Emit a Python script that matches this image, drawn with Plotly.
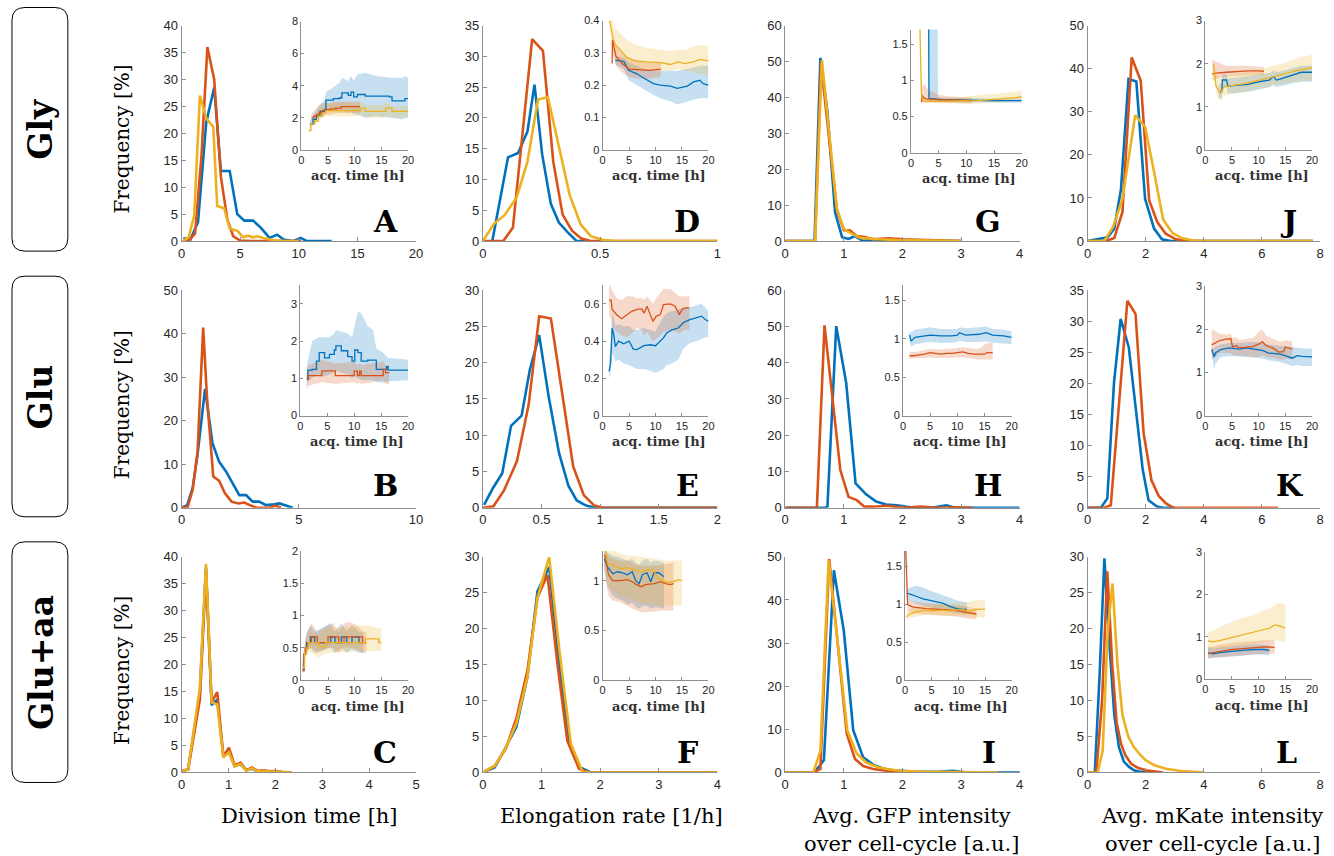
import plotly.graph_objects as go

# ---------------- DATA ----------------
# Row 1 (Gly)
A_blue_x = [0.15, 0.75, 1.4, 2.1, 2.78, 3.35, 4.1, 4.75, 5.35, 6.1, 6.75, 7.5, 8.15, 8.7, 9.5, 10.15, 10.7, 12.8]
A_blue_f = [0.5, 0.3, 3.5, 22, 28.5, 13, 13, 5, 3.8, 3.8, 2.5, 0.6, 1.2, 0.3, 0, 0.6, 0, 0]
A_red_x = [0.15, 0.7, 1.15, 1.7, 2.2, 2.78, 3.35, 3.9, 4.4, 5.0, 6.0, 7.0, 8.0, 9.0, 10.2]
A_red_f = [0, 0.3, 1.4, 16, 36, 30, 12, 4, 0.9, 0.1, 0, 0, 0, 0, 0]
A_yel_x = [0.1, 0.6, 1.08, 1.56, 2.13, 2.7, 3.04, 3.63, 4.11, 4.77, 5.25, 5.67, 6.1, 6.5, 7.1, 7.8, 8.65, 10.0]
A_yel_f = [0, 0.7, 4.8, 27, 22.7, 21.2, 6.5, 6.1, 2.3, 1.9, 0.7, 1.0, 0.7, 0.9, 0.5, 0.2, 0, 0]

A_in_blue_t = [1.6, 2.2, 2.8, 3.5, 4.3, 4.6, 6.0, 7.2, 7.6, 8.8, 9.3, 9.8, 10.5, 12, 14, 16.5, 17.0, 19.0, 19.4, 20]
A_in_blue_m = [1.6, 1.9, 2.1, 2.4, 2.5, 3.1, 3.2, 3.25, 3.55, 3.4, 3.6, 3.3, 3.45, 3.35, 3.35, 3.3, 3.05, 3.05, 3.2, 3.2]
A_in_blue_hi = [1.8, 2.1, 2.4, 2.8, 3.1, 3.6, 3.9, 4.2, 4.5, 4.3, 4.6, 4.3, 4.7, 4.8, 4.6, 4.5, 4.5, 4.5, 4.6, 4.5]
A_in_blue_lo = [1.4, 1.7, 1.9, 2.1, 2.2, 2.4, 2.5, 2.4, 2.5, 2.3, 2.4, 2.2, 2.2, 2.0, 2.1, 2.0, 2.0, 1.9, 2.0, 2.0]
A_in_red_t = [1.9, 2.3, 2.8, 3.3, 3.8, 4.5, 5.5, 6.5, 7.5, 8.5, 10, 11]
A_in_red_m = [2.0, 2.1, 2.2, 2.3, 2.45, 2.5, 2.55, 2.6, 2.7, 2.7, 2.7, 2.7]
A_in_red_hi = [2.3, 2.4, 2.6, 2.8, 2.9, 2.9, 2.9, 3.0, 3.0, 3.0, 3.0, 3.0]
A_in_red_lo = [1.8, 1.8, 1.9, 2.0, 2.1, 2.2, 2.2, 2.3, 2.3, 2.3, 2.3, 2.3]
A_in_yel_t = [1.4, 1.8, 2.5, 3.2, 4.0, 4.6, 6, 8, 10.5, 11.2, 12, 14, 15.3, 15.8, 16.5, 17, 20]
A_in_yel_m = [1.2, 1.6, 1.8, 2.1, 2.3, 2.45, 2.45, 2.45, 2.45, 2.6, 2.4, 2.4, 2.4, 2.6, 2.6, 2.4, 2.4]
A_in_yel_hi = [1.3, 1.8, 2.1, 2.5, 2.7, 2.9, 2.9, 2.9, 2.9, 3.0, 2.8, 2.8, 2.8, 2.9, 2.9, 2.7, 2.7]
A_in_yel_lo = [1.1, 1.4, 1.6, 1.8, 2.0, 2.1, 2.1, 2.1, 2.1, 2.2, 2.05, 2.0, 2.0, 2.1, 2.1, 2.0, 2.0]

D_blue_x = [0.04, 0.107, 0.15, 0.19, 0.22, 0.253, 0.29, 0.324, 0.36, 0.40, 0.44]
D_blue_f = [0, 13.6, 14.3, 17.8, 25.4, 14, 6, 3, 1.5, 0, 0]
D_red_x = [0, 0.087, 0.128, 0.21, 0.256, 0.3, 0.34, 0.38, 0.42, 0.46, 0.6, 0.8, 1.0]
D_red_f = [0, 0, 2.2, 32.8, 30.9, 12.9, 4.3, 1.7, 0.4, 0, 0, 0, 0]
D_yel_x = [0, 0.047, 0.092, 0.144, 0.19, 0.235, 0.277, 0.324, 0.37, 0.417, 0.46, 0.51, 0.56, 0.7, 0.85, 1.0]
D_yel_f = [0, 2.8, 4.2, 7.1, 12.9, 23, 23.4, 15.1, 7.5, 2.7, 0.8, 0.2, 0, 0, 0, 0]

D_in_yel_t = [1.3, 1.9, 2.4, 3.3, 4.6, 6.2, 8.4, 10.9, 12.8, 14.3, 15.6, 17.2, 18.4, 20]
D_in_yel_m = [0.40, 0.35, 0.325, 0.31, 0.285, 0.275, 0.272, 0.27, 0.264, 0.272, 0.267, 0.272, 0.28, 0.275]
D_in_yel_hi = [0.42, 0.40, 0.375, 0.36, 0.34, 0.325, 0.315, 0.31, 0.305, 0.31, 0.31, 0.32, 0.325, 0.32]
D_in_yel_lo = [0.38, 0.31, 0.29, 0.27, 0.255, 0.25, 0.245, 0.245, 0.245, 0.25, 0.245, 0.24, 0.235, 0.23]
D_in_red_t = [1.8, 1.85, 2.5, 3.7, 5.0, 6.9, 8.8, 11]
D_in_red_m = [0.267, 0.34, 0.29, 0.267, 0.25, 0.248, 0.246, 0.25]
D_in_red_hi = [0.29, 0.35, 0.32, 0.30, 0.285, 0.275, 0.27, 0.27]
D_in_red_lo = [0.25, 0.3, 0.26, 0.24, 0.225, 0.22, 0.22, 0.225]
D_in_blue_t = [2.4, 4.0, 4.9, 6.4, 8.0, 9.6, 10.9, 12.8, 14.1, 16.0, 17.2, 18.4, 19.0, 20]
D_in_blue_m = [0.277, 0.274, 0.246, 0.236, 0.22, 0.205, 0.2, 0.197, 0.19, 0.197, 0.21, 0.215, 0.205, 0.2]
D_in_blue_hi = [0.29, 0.285, 0.27, 0.26, 0.25, 0.245, 0.245, 0.245, 0.245, 0.25, 0.255, 0.26, 0.26, 0.26]
D_in_blue_lo = [0.265, 0.25, 0.215, 0.2, 0.185, 0.17, 0.16, 0.15, 0.14, 0.15, 0.155, 0.16, 0.16, 0.16]

G_blue_x = [0, 0.5, 0.6, 0.72, 0.85, 0.97, 1.08, 1.19, 1.33, 1.5, 1.7, 2.0, 2.3, 2.6, 3.0]
G_blue_f = [0, 0, 51, 36, 8, 1.1, 0.6, 1.4, 0, 0.5, 0, 0.2, 0, 0.1, 0]
G_red_x = [0, 0.51, 0.61, 0.74, 0.88, 1.0, 1.1, 1.22, 1.36, 1.5, 1.76, 2.0, 2.3, 2.6, 3.0]
G_red_f = [0, 0, 49.5, 30, 8.8, 3, 3, 1.4, 1.1, 0.5, 0.8, 0.5, 0.4, 0.3, 0]
G_yel_x = [0, 0.51, 0.625, 0.74, 0.88, 1.0, 1.14, 1.28, 1.45, 1.6, 1.9, 2.3, 2.65, 3.0]
G_yel_f = [0, 0, 50.4, 31, 9, 3.4, 2, 0.9, 0.65, 0.5, 0.3, 0.2, 0, 0]

G_in_yel_t = [1.6, 1.75, 1.9, 2.2, 3, 5, 8, 10, 12, 14, 16, 18, 20]
G_in_yel_m = [1.8, 1.2, 0.8, 0.72, 0.71, 0.71, 0.71, 0.72, 0.72, 0.73, 0.74, 0.75, 0.77]
G_in_yel_hi = [1.9, 1.3, 0.84, 0.76, 0.75, 0.75, 0.76, 0.78, 0.79, 0.8, 0.82, 0.84, 0.86]
G_in_yel_lo = [1.7, 1.1, 0.76, 0.69, 0.68, 0.68, 0.68, 0.68, 0.68, 0.69, 0.69, 0.7, 0.71]
G_in_red_t = [1.9, 2.0, 2.5, 3, 4, 5, 7, 9, 11]
G_in_red_m = [0.7, 0.79, 0.75, 0.74, 0.74, 0.73, 0.73, 0.72, 0.72]
G_in_red_hi = [0.78, 0.9, 0.95, 0.88, 0.84, 0.8, 0.78, 0.77, 0.76]
G_in_red_lo = [0.66, 0.7, 0.69, 0.69, 0.7, 0.69, 0.69, 0.68, 0.68]
G_in_blue_t = [3.2, 3.25, 3.4, 4.8, 4.9, 6, 8, 11, 14, 17, 20]
G_in_blue_m = [1.8, 0.76, 0.75, 0.74, 0.73, 0.73, 0.73, 0.72, 0.72, 0.72, 0.72]
G_in_blue_hi = [1.9, 1.9, 1.9, 1.9, 0.77, 0.76, 0.76, 0.75, 0.75, 0.75, 0.75]
G_in_blue_lo = [0.72, 0.72, 0.72, 0.71, 0.7, 0.7, 0.7, 0.69, 0.69, 0.69, 0.69]

J_blue_x = [0, 0.34, 0.69, 0.92, 1.15, 1.41, 1.68, 1.98, 2.29, 2.56, 2.87, 4, 6, 7.75]
J_blue_f = [0, 0.5, 0.9, 2.9, 12, 37.6, 37, 9.8, 2.9, 0.4, 0, 0, 0, 0]
J_red_x = [0, 0.63, 0.92, 1.2, 1.52, 1.83, 2.12, 2.4, 2.69, 3.04, 3.38, 5, 7.75]
J_red_f = [0, 0, 0.7, 6.7, 42.6, 37.2, 9.5, 4.4, 1.7, 0.4, 0, 0, 0]
J_yel_x = [0, 0.57, 0.88, 1.2, 1.64, 1.98, 2.29, 2.6, 2.92, 3.24, 3.6, 3.95, 6, 7.75]
J_yel_f = [0, 0, 3.3, 9.8, 29.2, 26.5, 16, 5, 1.9, 0.7, 0.2, 0, 0, 0]

J_in_red_t = [1.3, 2, 4, 6, 8, 10, 11]
J_in_red_m = [1.76, 1.78, 1.8, 1.82, 1.83, 1.83, 1.82]
J_in_red_hi = [2.1, 2.05, 1.95, 1.95, 1.95, 1.93, 1.92]
J_in_red_lo = [1.6, 1.65, 1.7, 1.72, 1.73, 1.74, 1.73]
J_in_yel_t = [1.55, 2.0, 2.5, 2.9, 3.5, 4.8, 7.6, 10.1, 12.5, 15, 17.5, 20]
J_in_yel_m = [1.99, 1.48, 1.38, 1.32, 1.46, 1.48, 1.54, 1.61, 1.69, 1.77, 1.85, 1.91]
J_in_yel_hi = [2.1, 1.75, 1.7, 1.65, 1.72, 1.74, 1.8, 1.86, 1.94, 2.02, 2.15, 2.2]
J_in_yel_lo = [1.85, 1.3, 1.2, 1.15, 1.25, 1.3, 1.35, 1.42, 1.48, 1.55, 1.58, 1.62]
J_in_blue_t = [2.5, 3.1, 3.2, 4.0, 4.2, 6, 8, 10, 12, 12.8, 13.3, 14, 15, 16, 17, 18, 20]
J_in_blue_m = [1.35, 1.35, 1.62, 1.62, 1.48, 1.5, 1.52, 1.58, 1.62, 1.7, 1.62, 1.64, 1.68, 1.72, 1.76, 1.8, 1.8]
J_in_blue_hi = [1.5, 1.55, 1.75, 1.75, 1.65, 1.68, 1.7, 1.74, 1.78, 1.84, 1.8, 1.82, 1.85, 1.88, 1.92, 1.95, 1.95]
J_in_blue_lo = [1.2, 1.2, 1.45, 1.45, 1.3, 1.32, 1.35, 1.4, 1.45, 1.52, 1.46, 1.48, 1.5, 1.54, 1.56, 1.58, 1.58]

# Row 2 (Glu)
B_blue_x = [0.04, 0.23, 0.47, 0.68, 1.0, 1.32, 1.6, 1.9, 2.18, 2.46, 2.75, 3.03, 3.31, 3.6, 3.95, 4.17, 4.45, 4.74]
B_blue_f = [0.2, 0.5, 4.5, 12.2, 27.3, 14.8, 10.6, 8.3, 5.6, 2.9, 2.9, 1.4, 1.4, 0.6, 0.8, 1.0, 0.5, 0]
B_red_x = [0.02, 0.26, 0.47, 0.68, 0.92, 1.08, 1.35, 1.6, 1.85, 2.13, 2.42, 2.67, 2.96, 3.2, 3.74, 4.0, 4.24]
B_red_f = [0, 0.2, 4.1, 12.9, 41.4, 25.6, 7.2, 6.2, 3.3, 1.4, 1.0, 1.2, 0.5, 0, 0, 0.5, 0]

B_in_blue_t = [1.2, 1.4, 2.2, 3.0, 3.5, 4.5, 5.4, 6.3, 6.6, 7.6, 8.8, 9.6, 10.1, 10.7, 11.3, 12.5, 13.5, 14.1, 15.3, 16.0, 16.3, 20]
B_in_blue_m = [1.0, 1.22, 1.24, 1.46, 1.69, 1.55, 1.64, 1.76, 1.87, 1.74, 1.58, 1.46, 1.76, 1.69, 1.46, 1.49, 1.49, 1.24, 1.24, 1.31, 1.22, 1.22]
B_in_blue_hi = [1.3, 1.5, 2.0, 2.05, 2.1, 2.1, 2.1, 2.2, 2.3, 2.25, 2.2, 2.1, 2.4, 2.8, 2.75, 2.4, 2.3, 1.8, 1.7, 1.6, 1.55, 1.5]
B_in_blue_lo = [0.8, 0.9, 1.0, 1.1, 1.1, 1.05, 1.1, 1.15, 1.2, 1.15, 1.1, 1.0, 1.05, 1.0, 0.95, 0.95, 0.95, 0.9, 0.88, 0.9, 0.92, 0.95]
B_in_red_t = [1.2, 1.5, 4.0, 6.5, 10.0, 10.6, 11.0, 11.3, 15.4, 15.8, 16.5]
B_in_red_m = [0.97, 1.07, 1.2, 1.07, 1.19, 1.07, 1.19, 1.07, 1.24, 1.15, 1.15]
B_in_red_hi = [1.2, 1.35, 1.5, 1.4, 1.45, 1.35, 1.4, 1.35, 1.45, 1.35, 1.35]
B_in_red_lo = [0.7, 0.8, 0.9, 0.85, 0.9, 0.85, 0.9, 0.85, 0.95, 0.85, 0.85]

E_blue_x = [0.01, 0.085, 0.165, 0.24, 0.33, 0.40, 0.48, 0.56, 0.65, 0.73, 0.80, 0.88, 0.96, 1.2, 1.6, 2.0]
E_blue_f = [0.4, 2.7, 4.75, 11.3, 12.7, 19, 23.8, 15.4, 7.5, 3, 1, 0.3, 0, 0, 0, 0]
E_red_x = [0, 0.09, 0.18, 0.29, 0.39, 0.48, 0.58, 0.67, 0.77, 0.86, 0.95, 1.03, 1.4, 1.7, 2.0]
E_red_f = [0, 0.2, 2.4, 6.4, 14.2, 26.4, 26.1, 16.3, 5.7, 1.75, 0.3, 0, 0, 0, 0]

E_in_red_t = [1.2, 1.6, 1.8, 2.7, 3.6, 4.6, 5.5, 6.5, 7.4, 7.8, 8.4, 9.0, 9.5, 10.1, 10.9, 11.5, 12.8, 13.7, 14.5, 15.0, 15.6, 16.4]
E_in_red_m = [0.62, 0.62, 0.57, 0.54, 0.52, 0.54, 0.56, 0.57, 0.573, 0.55, 0.587, 0.542, 0.506, 0.533, 0.542, 0.596, 0.6, 0.587, 0.542, 0.57, 0.578, 0.578]
E_in_red_hi = [0.7, 0.69, 0.67, 0.63, 0.62, 0.64, 0.64, 0.63, 0.63, 0.62, 0.64, 0.62, 0.6, 0.63, 0.66, 0.68, 0.68, 0.66, 0.64, 0.64, 0.64, 0.64]
E_in_red_lo = [0.54, 0.52, 0.48, 0.45, 0.43, 0.42, 0.44, 0.47, 0.46, 0.43, 0.45, 0.42, 0.4, 0.41, 0.43, 0.45, 0.46, 0.45, 0.44, 0.45, 0.46, 0.46]
E_in_blue_t = [1.2, 1.5, 1.8, 2.1, 2.4, 3.0, 4.0, 5.0, 5.8, 6.5, 7.8, 9.0, 10.0, 10.9, 11.5, 12.1, 13.1, 14.3, 15.3, 16.5, 17.8, 18.7, 19.4, 20]
E_in_blue_m = [0.237, 0.28, 0.47, 0.435, 0.37, 0.4, 0.385, 0.4, 0.357, 0.354, 0.375, 0.38, 0.375, 0.4, 0.417, 0.443, 0.46, 0.47, 0.5, 0.515, 0.525, 0.534, 0.516, 0.507]
E_in_blue_hi = [0.3, 0.38, 0.55, 0.53, 0.48, 0.49, 0.48, 0.48, 0.46, 0.46, 0.47, 0.46, 0.45, 0.5, 0.53, 0.55, 0.56, 0.57, 0.58, 0.58, 0.59, 0.6, 0.58, 0.56]
E_in_blue_lo = [0.2, 0.22, 0.33, 0.32, 0.29, 0.3, 0.28, 0.27, 0.26, 0.25, 0.25, 0.24, 0.23, 0.24, 0.25, 0.27, 0.28, 0.3, 0.36, 0.39, 0.4, 0.41, 0.42, 0.42]

H_blue_x = [0, 0.68, 0.72, 0.87, 1.04, 1.2, 1.38, 1.55, 1.72, 1.9, 2.07, 2.24, 2.5, 2.75, 2.9, 3.5, 4.0]
H_blue_f = [0, 0, 0.3, 50.1, 34.4, 6.7, 3.7, 1.7, 0.9, 0.7, 0.3, 0, 0, 0.7, 0, 0, 0]
H_red_x = [0, 0.54, 0.67, 0.94, 1.08, 1.22, 1.35, 1.5, 1.73, 1.9, 2.05, 2.3, 2.6, 2.9, 3.2]
H_red_f = [0, 0, 50.3, 10.4, 3, 2.1, 0.3, 0.3, 0.55, 0.3, 0, 0.3, 0, 0.1, 0]

H_in_blue_t = [1.2, 1.5, 2.2, 4, 5, 7, 9, 10, 10.4, 11.5, 14, 15.3, 16.5, 18.5, 20]
H_in_blue_m = [1.05, 0.97, 1.02, 1.04, 1.05, 1.04, 1.04, 1.05, 1.08, 1.05, 1.06, 1.08, 1.05, 1.04, 1.02]
H_in_blue_hi = [1.1, 1.08, 1.12, 1.14, 1.15, 1.13, 1.13, 1.13, 1.15, 1.14, 1.15, 1.16, 1.13, 1.12, 1.1]
H_in_blue_lo = [0.96, 0.9, 0.93, 0.95, 0.96, 0.95, 0.95, 0.96, 0.98, 0.96, 0.96, 0.97, 0.95, 0.94, 0.93]
H_in_red_t = [1.2, 2, 3, 4, 5, 6, 7, 8, 9, 10, 11, 12, 13, 14, 15, 15.5, 16.5]
H_in_red_m = [0.78, 0.78, 0.79, 0.8, 0.82, 0.81, 0.8, 0.81, 0.81, 0.82, 0.83, 0.81, 0.8, 0.8, 0.8, 0.82, 0.82]
H_in_red_hi = [0.83, 0.83, 0.84, 0.86, 0.87, 0.86, 0.86, 0.87, 0.87, 0.88, 0.89, 0.88, 0.87, 0.87, 0.93, 0.95, 0.95]
H_in_red_lo = [0.74, 0.74, 0.75, 0.75, 0.76, 0.75, 0.75, 0.75, 0.75, 0.76, 0.76, 0.75, 0.74, 0.73, 0.73, 0.73, 0.73]

K_blue_x = [0, 0.46, 0.68, 0.91, 1.14, 1.42, 1.9, 2.1, 2.39, 2.6, 3.0]
K_blue_f = [0, 0, 1.5, 20.1, 30.4, 25.8, 6.1, 1.2, 0.2, 0, 0]
K_red_x = [0, 0.57, 0.8, 1.08, 1.37, 1.65, 1.93, 2.2, 2.45, 2.7, 2.96, 4, 5, 6.55]
K_red_f = [0, 0, 0.4, 16, 33.3, 31.2, 12, 4.4, 1.9, 0.7, 0, 0, 0, 0]

K_in_red_t = [1.2, 2.7, 3.9, 4.8, 5.1, 5.8, 6.4, 7.6, 8.9, 10.1, 10.7, 11.4, 12.6, 13.8, 14.7, 15.0, 16.3]
K_in_red_m = [1.64, 1.74, 1.77, 1.78, 1.59, 1.62, 1.57, 1.59, 1.6, 1.66, 1.71, 1.62, 1.57, 1.47, 1.48, 1.59, 1.54]
K_in_red_hi = [2.0, 1.9, 1.88, 1.9, 1.8, 1.82, 1.75, 1.78, 1.8, 1.95, 2.0, 1.85, 1.78, 1.72, 1.72, 1.75, 1.72]
K_in_red_lo = [1.3, 1.45, 1.45, 1.45, 1.4, 1.4, 1.38, 1.38, 1.36, 1.36, 1.4, 1.36, 1.34, 1.3, 1.3, 1.32, 1.3]
K_in_blue_t = [1.2, 1.7, 1.9, 2.9, 4.5, 6.4, 7.6, 9.5, 10.7, 11.9, 13.8, 15.0, 16.3, 17.2, 18.2, 20]
K_in_blue_m = [1.53, 1.36, 1.45, 1.53, 1.57, 1.54, 1.57, 1.54, 1.51, 1.45, 1.43, 1.39, 1.33, 1.39, 1.37, 1.36]
K_in_blue_hi = [1.6, 1.55, 1.6, 1.65, 1.68, 1.68, 1.7, 1.7, 1.68, 1.65, 1.62, 1.6, 1.58, 1.58, 1.56, 1.55]
K_in_blue_lo = [1.4, 1.05, 1.2, 1.35, 1.38, 1.36, 1.36, 1.34, 1.32, 1.28, 1.25, 1.2, 1.15, 1.17, 1.15, 1.15]

# Row 3 (Glu+aa)
C_x = [0.02, 0.14, 0.39, 0.52, 0.64, 0.76, 0.89, 1.01, 1.13, 1.26, 1.38, 1.5, 1.63, 1.76, 1.88, 2.0, 2.13, 2.34]
C_blue_f = [0.2, 0.6, 15.0, 38.0, 12.5, 13.5, 3.0, 3.8, 1.2, 1.5, 0.4, 0.7, 0.2, 0.3, 0.1, 0.2, 0.05, 0]
C_red_f = [0.3, 0.6, 13.5, 37.5, 13.0, 14.9, 3.0, 4.6, 1.3, 1.8, 0.4, 0.9, 0.3, 0.4, 0.2, 0.3, 0.1, 0]
C_yel_f = [0.2, 0.6, 15.8, 38.7, 13.0, 12.6, 2.8, 3.7, 1.1, 1.6, 0.3, 0.8, 0.2, 0.3, 0.1, 0.2, 0.05, 0]

C_in_blue_t = [0.2, 0.5, 0.8, 1.0, 1.7, 2.5, 5.5, 6.3, 7.5, 8.5, 9.5, 10.8, 11.6]
C_in_blue_m = [0.15, 0.4, 0.5, 0.58, 0.67, 0.58, 0.67, 0.58, 0.67, 0.58, 0.67, 0.58, 0.58]
C_in_blue_hi = [0.3, 0.5, 0.65, 0.75, 0.85, 0.75, 0.88, 0.75, 0.88, 0.75, 0.85, 0.75, 0.75]
C_in_blue_lo = [0.1, 0.3, 0.4, 0.45, 0.5, 0.42, 0.5, 0.42, 0.5, 0.42, 0.48, 0.42, 0.42]
C_in_red_t = [0.2, 0.5, 0.8, 1.2, 1.9, 3.0, 5.0, 6.0, 7.0, 8.0, 9.0, 10.5, 11.5, 12.2]
C_in_red_m = [0.15, 0.4, 0.5, 0.58, 0.67, 0.58, 0.67, 0.67, 0.58, 0.67, 0.67, 0.67, 0.58, 0.58]
C_in_red_hi = [0.3, 0.5, 0.65, 0.75, 0.88, 0.75, 0.85, 0.88, 0.75, 0.88, 0.9, 0.85, 0.75, 0.75]
C_in_red_lo = [0.1, 0.3, 0.4, 0.45, 0.5, 0.42, 0.5, 0.5, 0.42, 0.5, 0.5, 0.48, 0.42, 0.42]
C_in_yel_t = [0.3, 0.6, 1.0, 1.3, 3.3, 4.5, 12.0, 14.5, 15.0]
C_in_yel_m = [0.2, 0.42, 0.5, 0.58, 0.52, 0.58, 0.64, 0.58, 0.58]
C_in_yel_hi = [0.3, 0.55, 0.65, 0.75, 0.7, 0.8, 0.85, 0.8, 0.8]
C_in_yel_lo = [0.1, 0.3, 0.38, 0.45, 0.35, 0.42, 0.45, 0.45, 0.45]

F_blue_x = [0.02, 0.2, 0.39, 0.57, 0.76, 0.93, 1.13, 1.29, 1.46, 1.66, 1.84, 2.5, 3.2, 4.0]
F_blue_f = [0.1, 0.7, 3.5, 6.3, 13.3, 25.2, 28.6, 16.1, 4.5, 0.7, 0, 0, 0, 0]
F_red_x = [0.02, 0.2, 0.39, 0.57, 0.76, 0.93, 1.10, 1.27, 1.44, 1.64, 1.81, 2.5, 3.2, 4.0]
F_red_f = [0.1, 0.9, 3.3, 7.5, 14.2, 24.3, 27.5, 15.2, 4.4, 0.5, 0, 0, 0, 0]
F_yel_x = [0.02, 0.2, 0.39, 0.57, 0.76, 0.93, 1.13, 1.31, 1.5, 1.7, 1.84, 2.5, 3.2, 4.0]
F_yel_f = [0.1, 0.9, 3.4, 6.8, 13.3, 24.3, 30, 16.6, 4, 0.1, 0, 0, 0, 0]

F_in_yel_t = [0.55, 0.95, 1.9, 3.4, 4.7, 5.9, 7.2, 8.4, 9.7, 10.3, 11.25, 12.2, 13.4, 14.4, 15.0]
F_in_yel_m = [1.3, 1.17, 1.16, 1.12, 1.13, 1.11, 1.09, 1.11, 1.1, 1.02, 1.01, 0.98, 0.99, 1.01, 1.0]
F_in_yel_hi = [1.4, 1.32, 1.3, 1.27, 1.25, 1.25, 1.24, 1.23, 1.22, 1.22, 1.21, 1.2, 1.2, 1.2, 1.2]
F_in_yel_lo = [1.1, 0.95, 0.9, 0.85, 0.82, 0.8, 0.78, 0.77, 0.76, 0.75, 0.75, 0.75, 0.75, 0.75, 0.75]
F_in_red_t = [0.3, 0.6, 1.1, 1.9, 3.4, 4.7, 5.6, 6.4, 7.3, 8.1, 9.7, 10.9, 11.9, 12.8, 13.4]
F_in_red_m = [1.26, 1.22, 1.06, 1.0, 1.0, 1.01, 0.99, 0.96, 0.94, 0.96, 0.97, 0.99, 0.97, 0.96, 0.97]
F_in_red_hi = [1.35, 1.3, 1.25, 1.22, 1.2, 1.2, 1.18, 1.16, 1.15, 1.15, 1.15, 1.16, 1.17, 1.18, 1.18]
F_in_red_lo = [1.15, 1.0, 0.85, 0.8, 0.78, 0.75, 0.72, 0.7, 0.68, 0.68, 0.69, 0.7, 0.7, 0.7, 0.7]
F_in_blue_t = [0.3, 0.9, 1.9, 2.8, 3.75, 4.7, 5.6, 6.25, 6.9, 7.5, 8.4, 9.1, 9.7, 10.6, 11.6]
F_in_blue_m = [1.22, 1.14, 1.07, 1.09, 1.08, 1.06, 1.09, 1.0, 0.97, 1.06, 1.08, 0.99, 1.08, 1.08, 1.04]
F_in_blue_hi = [1.3, 1.28, 1.25, 1.24, 1.22, 1.2, 1.22, 1.18, 1.16, 1.2, 1.22, 1.18, 1.2, 1.2, 1.18]
F_in_blue_lo = [1.1, 0.95, 0.85, 0.82, 0.8, 0.76, 0.78, 0.74, 0.72, 0.74, 0.75, 0.72, 0.73, 0.73, 0.72]

I_blue_x = [0, 0.48, 0.57, 0.66, 0.83, 1.0, 1.16, 1.33, 1.5, 1.67, 1.84, 2.01, 2.24, 2.64, 2.87, 3.1, 3.6, 4.0]
I_blue_f = [0, 0, 1.2, 2.9, 46.9, 32.8, 9.8, 3.5, 1.8, 0.9, 0.5, 0.4, 0.15, 0.2, 0.4, 0, 0, 0]
I_red_x = [0, 0.48, 0.6, 0.75, 1.05, 1.19, 1.33, 1.5, 1.73, 2.0, 2.33, 2.7, 3.1]
I_red_f = [0, 0, 0.8, 49.5, 9, 3.1, 1.5, 0.8, 0.4, 0.2, 0, 0, 0]
I_yel_x = [0, 0.48, 0.6, 0.74, 1.06, 1.22, 1.38, 1.56, 1.73, 1.96, 2.3, 2.75, 3.2, 3.63]
I_yel_f = [0, 0, 5, 49.2, 9.7, 4.4, 2.3, 1.3, 0.8, 0.4, 0.2, 0.15, 0, 0]

I_in_red_t = [0.1, 0.5, 1.6, 2.8, 4.0, 6.5, 9.0, 10.3, 11.6, 12.8, 13.4]
I_in_red_m = [1.8, 0.99, 0.96, 0.95, 0.94, 0.93, 0.92, 0.91, 0.89, 0.87, 0.87]
I_in_red_hi = [1.9, 1.05, 1.03, 1.02, 1.01, 1.0, 0.99, 0.98, 0.97, 0.95, 0.95]
I_in_red_lo = [1.7, 0.9, 0.88, 0.87, 0.86, 0.85, 0.84, 0.83, 0.81, 0.8, 0.8]
I_in_blue_t = [0.3, 1.0, 2.2, 3.4, 4.7, 5.9, 7.2, 8.4, 9.7, 10.9, 11.6]
I_in_blue_m = [1.14, 1.13, 1.1, 1.07, 1.05, 1.03, 1.01, 0.97, 0.94, 0.93, 0.93]
I_in_blue_hi = [1.2, 1.22, 1.24, 1.22, 1.18, 1.15, 1.12, 1.08, 1.05, 1.03, 1.02]
I_in_blue_lo = [1.06, 1.04, 1.0, 0.98, 0.96, 0.94, 0.92, 0.9, 0.88, 0.87, 0.87]
I_in_yel_t = [0.3, 0.9, 2.2, 4.1, 5.3, 6.6, 8.4, 10.3, 12.2, 13.4, 15.0]
I_in_yel_m = [0.83, 0.87, 0.9, 0.92, 0.91, 0.92, 0.91, 0.93, 0.91, 0.93, 0.935]
I_in_yel_hi = [0.88, 0.93, 0.97, 0.99, 0.99, 1.0, 1.0, 1.02, 1.03, 1.05, 1.05]
I_in_yel_lo = [0.79, 0.82, 0.84, 0.86, 0.85, 0.85, 0.84, 0.85, 0.83, 0.83, 0.82]

L_blue_x = [0, 0.25, 0.42, 0.58, 0.75, 0.92, 1.08, 1.25, 1.42, 1.6, 1.8, 2.2]
L_blue_f = [0, 0, 14, 29.8, 18, 8, 3.5, 1.5, 0.8, 0.3, 0.1, 0]
L_red_x = [0, 0.3, 0.5, 0.68, 0.85, 1.0, 1.15, 1.3, 1.5, 1.75, 2.0, 2.3, 2.6]
L_red_f = [0, 0, 10, 28, 15, 7, 4, 2.4, 1.2, 0.6, 0.3, 0.1, 0]
L_yel_x = [0, 0.35, 0.52, 0.7, 0.86, 1.03, 1.2, 1.4, 1.6, 1.8, 2.0, 2.3, 2.7, 3.2, 3.6, 4.0]
L_yel_f = [0, 0, 3, 20, 26.3, 15, 8, 5, 3.5, 2.5, 1.7, 1.0, 0.5, 0.2, 0.1, 0]

L_in_yel_t = [0.5, 1.5, 3, 5, 7, 9, 10.5, 12, 13, 14, 15]
L_in_yel_m = [0.9, 0.88, 0.92, 0.98, 1.05, 1.1, 1.15, 1.2, 1.28, 1.25, 1.2]
L_in_yel_hi = [1.1, 1.15, 1.25, 1.35, 1.45, 1.5, 1.6, 1.65, 1.75, 1.8, 1.75]
L_in_yel_lo = [0.7, 0.7, 0.72, 0.75, 0.8, 0.82, 0.85, 0.88, 0.92, 0.9, 0.88]
L_in_red_t = [0.5, 1.5, 3, 5, 7, 9, 11, 13]
L_in_red_m = [0.6, 0.62, 0.66, 0.7, 0.72, 0.74, 0.76, 0.75]
L_in_red_hi = [0.75, 0.78, 0.82, 0.86, 0.88, 0.9, 0.92, 0.92]
L_in_red_lo = [0.48, 0.5, 0.52, 0.55, 0.56, 0.58, 0.6, 0.6]
L_in_blue_t = [0.5, 1.5, 3, 5, 7, 9, 11, 12]
L_in_blue_m = [0.62, 0.6, 0.63, 0.66, 0.68, 0.7, 0.7, 0.68]
L_in_blue_hi = [0.75, 0.72, 0.75, 0.78, 0.8, 0.82, 0.82, 0.8]
L_in_blue_lo = [0.5, 0.5, 0.52, 0.54, 0.56, 0.58, 0.58, 0.56]

row_labels = ["Gly", "Glu", "Glu+aa"]
x_titles = ["Division time [h]", "Elongation rate [1/h]",
            ["Avg. GFP intensity", "over cell-cycle [a.u.]"],
            ["Avg. mKate intensity", "over cell-cycle [a.u.]"]]
y_title = "Frequency [%]"
inset_x_title = "acq. time [h]"

# ---------------- STYLE / LAYOUT ----------------
W, H = 1334, 856
# the captured page is slightly shrunk/offset; map target pixel positions accordingly
SX, OX = 0.994, 2.0
SY, OY = 0.98, 8.5
def px(x): return ((x - OX) / SX) / W
def py(y): return 1 - max(0.0, (y - OY) / SY) / H

BLUE, RED, YEL = '#0072BD', '#D95319', '#EDB120'
BAND = {BLUE: 'rgba(0,114,189,0.22)', RED: 'rgba(217,83,25,0.22)', YEL: 'rgba(237,177,32,0.22)'}
AXC = '#8f8f8f'
TXC = '#262626'
SERIF = 'DejaVu Serif'

col_x = [(180, 415), (482, 717), (785, 1020), (1088, 1321)]
row_y = [(27, 242), (291, 508), (557, 772)]

panels = [
    ('A', 0, 0, [0, 20], 5, [0, 40], 5, (300, 407, 23, 151), [0, 8], 2, True,
     [(A_blue_x, A_blue_f, BLUE), (A_red_x, A_red_f, RED), (A_yel_x, A_yel_f, YEL)],
     [(A_in_blue_t, A_in_blue_m, A_in_blue_lo, A_in_blue_hi, BLUE), (A_in_red_t, A_in_red_m, A_in_red_lo, A_in_red_hi, RED), (A_in_yel_t, A_in_yel_m, A_in_yel_lo, A_in_yel_hi, YEL)]),
    ('D', 0, 1, [0, 1], 0.5, [0, 35], 5, (602, 708, 22, 151), [0, 0.4], 0.1, False,
     [(D_blue_x, D_blue_f, BLUE), (D_red_x, D_red_f, RED), (D_yel_x, D_yel_f, YEL)],
     [(D_in_blue_t, D_in_blue_m, D_in_blue_lo, D_in_blue_hi, BLUE), (D_in_red_t, D_in_red_m, D_in_red_lo, D_in_red_hi, RED), (D_in_yel_t, D_in_yel_m, D_in_yel_lo, D_in_yel_hi, YEL)]),
    ('G', 0, 2, [0, 4], 1, [0, 60], 10, (911, 1022, 31, 154), [0, 1.7], 0.5, False,
     [(G_blue_x, G_blue_f, BLUE), (G_red_x, G_red_f, RED), (G_yel_x, G_yel_f, YEL)],
     [(G_in_blue_t, G_in_blue_m, G_in_blue_lo, G_in_blue_hi, BLUE), (G_in_red_t, G_in_red_m, G_in_red_lo, G_in_red_hi, RED), (G_in_yel_t, G_in_yel_m, G_in_yel_lo, G_in_yel_hi, YEL)]),
    ('J', 0, 3, [0, 8], 2, [0, 50], 10, (1206, 1313, 22, 151), [0, 3], 1, False,
     [(J_blue_x, J_blue_f, BLUE), (J_red_x, J_red_f, RED), (J_yel_x, J_yel_f, YEL)],
     [(J_in_blue_t, J_in_blue_m, J_in_blue_lo, J_in_blue_hi, BLUE), (J_in_red_t, J_in_red_m, J_in_red_lo, J_in_red_hi, RED), (J_in_yel_t, J_in_yel_m, J_in_yel_lo, J_in_yel_hi, YEL)]),
    ('B', 1, 0, [0, 10], 5, [0, 50], 10, (299, 407, 286, 416), [0, 3.5], 1, True,
     [(B_blue_x, B_blue_f, BLUE), (B_red_x, B_red_f, RED)],
     [(B_in_blue_t, B_in_blue_m, B_in_blue_lo, B_in_blue_hi, BLUE), (B_in_red_t, B_in_red_m, B_in_red_lo, B_in_red_hi, RED)]),
    ('E', 1, 1, [0, 2], 0.5, [0, 30], 5, (602, 708, 286, 416), [0, 0.7], 0.2, False,
     [(E_blue_x, E_blue_f, BLUE), (E_red_x, E_red_f, RED)],
     [(E_in_blue_t, E_in_blue_m, E_in_blue_lo, E_in_blue_hi, BLUE), (E_in_red_t, E_in_red_m, E_in_red_lo, E_in_red_hi, RED)]),
    ('H', 1, 2, [0, 4], 1, [0, 60], 10, (903, 1012, 286, 416), [0, 1.7], 0.5, False,
     [(H_blue_x, H_blue_f, BLUE), (H_red_x, H_red_f, RED)],
     [(H_in_blue_t, H_in_blue_m, H_in_blue_lo, H_in_blue_hi, BLUE), (H_in_red_t, H_in_red_m, H_in_red_lo, H_in_red_hi, RED)]),
    ('K', 1, 3, [0, 8], 2, [0, 35], 5, (1206, 1313, 287, 416), [0, 3], 1, False,
     [(K_blue_x, K_blue_f, BLUE), (K_red_x, K_red_f, RED)],
     [(K_in_blue_t, K_in_blue_m, K_in_blue_lo, K_in_blue_hi, BLUE), (K_in_red_t, K_in_red_m, K_in_red_lo, K_in_red_hi, RED)]),
    ('C', 2, 0, [0, 5], 1, [0, 40], 5, (300, 407, 551, 680), [0, 2], 0.5, True,
     [(C_x, C_blue_f, BLUE), (C_x, C_red_f, RED), (C_x, C_yel_f, YEL)],
     [(C_in_blue_t, C_in_blue_m, C_in_blue_lo, C_in_blue_hi, BLUE), (C_in_red_t, C_in_red_m, C_in_red_lo, C_in_red_hi, RED), (C_in_yel_t, C_in_yel_m, C_in_yel_lo, C_in_yel_hi, YEL)]),
    ('F', 2, 1, [0, 4], 1, [0, 30], 5, (602, 708, 551, 680), [0, 1.3], 0.5, False,
     [(F_blue_x, F_blue_f, BLUE), (F_red_x, F_red_f, RED), (F_yel_x, F_yel_f, YEL)],
     [(F_in_blue_t, F_in_blue_m, F_in_blue_lo, F_in_blue_hi, BLUE), (F_in_red_t, F_in_red_m, F_in_red_lo, F_in_red_hi, RED), (F_in_yel_t, F_in_yel_m, F_in_yel_lo, F_in_yel_hi, YEL)]),
    ('I', 2, 2, [0, 4], 1, [0, 50], 10, (905, 1012, 551, 680), [0, 1.7], 0.5, False,
     [(I_blue_x, I_blue_f, BLUE), (I_red_x, I_red_f, RED), (I_yel_x, I_yel_f, YEL)],
     [(I_in_blue_t, I_in_blue_m, I_in_blue_lo, I_in_blue_hi, BLUE), (I_in_red_t, I_in_red_m, I_in_red_lo, I_in_red_hi, RED), (I_in_yel_t, I_in_yel_m, I_in_yel_lo, I_in_yel_hi, YEL)]),
    ('L', 2, 3, [0, 8], 2, [0, 30], 5, (1206, 1313, 552, 679), [0, 3], 1, False,
     [(L_blue_x, L_blue_f, BLUE), (L_red_x, L_red_f, RED), (L_yel_x, L_yel_f, YEL)],
     [(L_in_blue_t, L_in_blue_m, L_in_blue_lo, L_in_blue_hi, BLUE), (L_in_red_t, L_in_red_m, L_in_red_lo, L_in_red_hi, RED), (L_in_yel_t, L_in_yel_m, L_in_yel_lo, L_in_yel_hi, YEL)]),
]

letter_pos = {'A': (384, 222), 'D': (687, 222), 'G': (988, 222), 'J': (1289, 222),
              'B': (384, 486), 'E': (687, 486), 'H': (988, 486), 'K': (1290, 486),
              'C': (384, 752), 'F': (687, 752), 'I': (989, 752), 'L': (1287, 752)}

fig = go.Figure()
layout = dict(width=W, height=H, autosize=False, margin=dict(l=0, r=0, t=0, b=0),
              paper_bgcolor='white', plot_bgcolor='rgba(0,0,0,0)', showlegend=False)
annotations = []

def axis_style(rng, dtick, dom, anchor, fsize, ticklen):
    return dict(range=rng, dtick=dtick, tick0=0, domain=dom, anchor=anchor,
                showline=True, linecolor=AXC, linewidth=1, ticks='inside', ticklen=ticklen,
                tickcolor=AXC, tickwidth=1, showgrid=False, zeroline=False, mirror=False,
                tickfont=dict(family='Liberation Sans, Arial', size=fsize, color=TXC),
                fixedrange=True)

for i, p in enumerate(panels):
    (letter, r, c, xr, xd, yr, yd, ibox, iyr, iyd, step, mains, insets) = p
    m = i + 1
    n = i + 13
    x0, x1 = col_x[c]
    yt, yb = row_y[r]
    layout[f'xaxis{m}'] = axis_style(xr, xd, [px(x0), px(x1)], f'y{m}', 13, 4)
    layout[f'yaxis{m}'] = axis_style(yr, yd, [py(yb), py(yt)], f'x{m}', 13, 4)
    ix0, ix1, iy0, iy1 = ibox
    layout[f'xaxis{n}'] = axis_style([0, 20], 5, [px(ix0), px(ix1)], f'y{n}', 11, 3)
    layout[f'yaxis{n}'] = axis_style(iyr, iyd, [py(iy1), py(iy0)], f'x{n}', 11, 3)

    for (xs, fs, col) in mains:
        fig.add_trace(go.Scatter(x=xs, y=fs, mode='lines', line=dict(color=col, width=2.6),
                                 xaxis=f'x{m}', yaxis=f'y{m}', hoverinfo='skip'))
    for (t, mu, lo, hi, col) in insets:
        fig.add_trace(go.Scatter(x=list(t) + list(t)[::-1], y=list(hi) + list(lo)[::-1],
                                 fill='toself', fillcolor=BAND[col], line=dict(width=0),
                                 mode='lines', xaxis=f'x{n}', yaxis=f'y{n}', hoverinfo='skip'))
    for (t, mu, lo, hi, col) in insets:
        fig.add_trace(go.Scatter(x=t, y=mu, mode='lines',
                                 line=dict(color=col, width=1.3, shape='hv' if step else 'linear'),
                                 xaxis=f'x{n}', yaxis=f'y{n}', hoverinfo='skip'))

    annotations.append(dict(text=f'<b>{inset_x_title}</b>', x=px((ix0 + ix1) / 2 + 3), y=py(iy1 + 26),
                            xref='paper', yref='paper', showarrow=False, xanchor='center', yanchor='middle',
                            font=dict(family=SERIF, size=13, color='#333333')))
    lx, ly = letter_pos[letter]
    annotations.append(dict(text=f'<b>{letter}</b>', x=px(lx), y=py(ly), xref='paper', yref='paper',
                            showarrow=False, xanchor='center', yanchor='middle',
                            font=dict(family=SERIF, size=30, color='black')))

for yc in [140, 405, 670]:
    annotations.append(dict(text=y_title, x=px(120), y=py(yc), xref='paper', yref='paper',
                            showarrow=False, textangle=-90, xanchor='center', yanchor='middle',
                            font=dict(family=SERIF, size=20, color='black')))

annotations.append(dict(text=x_titles[0], x=px(308), y=py(815), xref='paper', yref='paper', showarrow=False,
                        xanchor='center', yanchor='middle', font=dict(family=SERIF, size=21, color='black')))
annotations.append(dict(text=x_titles[1], x=px(611), y=py(815), xref='paper', yref='paper', showarrow=False,
                        xanchor='center', yanchor='middle', font=dict(family=SERIF, size=21, color='black')))
for xc, lines in [(912, x_titles[2]), (1213, x_titles[3])]:
    for k, yy in enumerate([815, 843]):
        annotations.append(dict(text=lines[k], x=px(xc), y=py(yy), xref='paper', yref='paper', showarrow=False,
                                xanchor='center', yanchor='middle',
                                font=dict(family=SERIF, size=21, color='black')))

def rrect(x0, y0, x1, y1, rad):
    return (f"M {px(x0+rad)},{py(y0)} L {px(x1-rad)},{py(y0)} Q {px(x1)},{py(y0)} {px(x1)},{py(y0+rad)} "
            f"L {px(x1)},{py(y1-rad)} Q {px(x1)},{py(y1)} {px(x1-rad)},{py(y1)} "
            f"L {px(x0+rad)},{py(y1)} Q {px(x0)},{py(y1)} {px(x0)},{py(y1-rad)} "
            f"L {px(x0)},{py(y0+rad)} Q {px(x0)},{py(y0)} {px(x0+rad)},{py(y0)} Z")

shapes = []
for (b0, b1), lab, yc in zip([(9, 252), (277, 517), (542, 782)], row_labels, [130, 397, 662]):
    shapes.append(dict(type='path', path=rrect(10, b0, 66, b1, 13), xref='paper', yref='paper',
                       line=dict(color='black', width=1), fillcolor='rgba(0,0,0,0)'))
    annotations.append(dict(text=f'<b>{lab}</b>', x=px(39), y=py(yc), xref='paper', yref='paper',
                            showarrow=False, textangle=-90, xanchor='center', yanchor='middle',
                            font=dict(family=SERIF, size=33, color='black')))

layout['annotations'] = annotations
layout['shapes'] = shapes
fig.update_layout(**layout)
fig.write_html("out.html")
